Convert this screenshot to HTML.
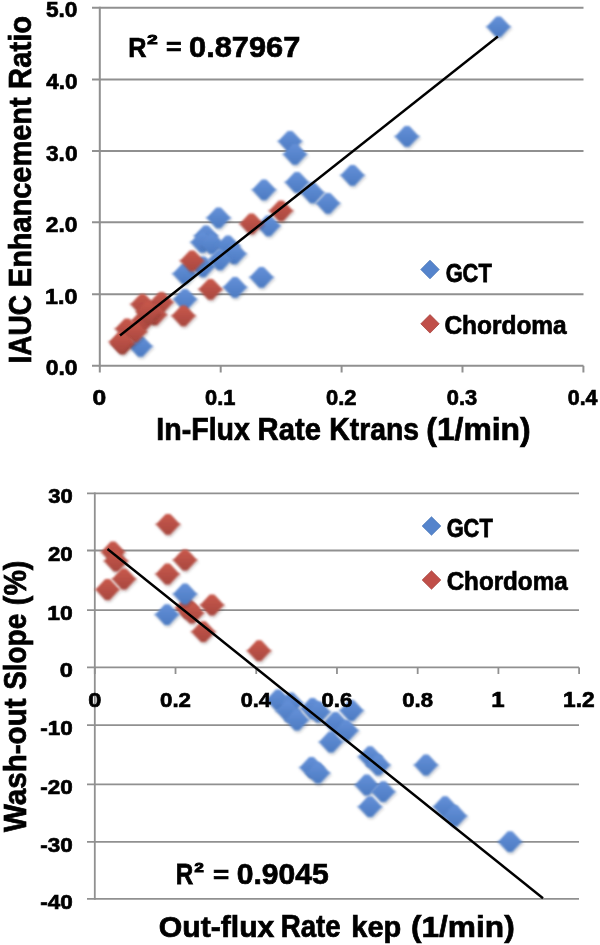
<!DOCTYPE html>
<html><head><meta charset="utf-8"><style>
html,body{margin:0;padding:0;background:#fff;}
body{width:600px;height:945px;overflow:hidden;}
svg{display:block;}
text{font-family:"Liberation Sans", sans-serif;font-weight:bold;fill:#000;stroke:#000;stroke-width:0.7px;vector-effect:non-scaling-stroke;}
</style></head><body>
<svg width="600" height="945" viewBox="0 0 600 945">
<defs>
<filter id="soft" x="-40%" y="-40%" width="180%" height="180%">
<feGaussianBlur in="SourceAlpha" stdDeviation="1.6" result="sb"/>
<feOffset in="sb" dx="0.8" dy="2" result="so"/>
<feFlood flood-color="#000" flood-opacity="0.22"/>
<feComposite in2="so" operator="in" result="sh"/>
<feGaussianBlur in="SourceGraphic" stdDeviation="0.9" result="bl"/>
<feMerge><feMergeNode in="sh"/><feMergeNode in="bl"/></feMerge>
</filter>
<filter id="glob" x="0" y="0" width="100%" height="100%" filterUnits="userSpaceOnUse"><feGaussianBlur stdDeviation="0.4"/></filter>
<filter id="lsoft" x="-20%" y="-20%" width="140%" height="140%"><feGaussianBlur stdDeviation="0.45"/></filter>
<linearGradient id="gb" x1="0" y1="0" x2="0" y2="1"><stop offset="0" stop-color="#6490d8"/><stop offset="1" stop-color="#4c7bc2"/></linearGradient>
<linearGradient id="gr" x1="0" y1="0" x2="0" y2="1"><stop offset="0" stop-color="#c9584b"/><stop offset="1" stop-color="#a84840"/></linearGradient>
</defs>
<rect width="600" height="945" fill="#fff"/>
<g filter="url(#glob)">
<line x1="92" y1="294.3" x2="583.5" y2="294.3" stroke="#909090" stroke-width="2"/>
<line x1="92" y1="222.3" x2="583.5" y2="222.3" stroke="#909090" stroke-width="2"/>
<line x1="92" y1="150.9" x2="583.5" y2="150.9" stroke="#909090" stroke-width="2"/>
<line x1="92" y1="79.4" x2="583.5" y2="79.4" stroke="#909090" stroke-width="2"/>
<line x1="92" y1="7.8" x2="583.5" y2="7.8" stroke="#909090" stroke-width="2"/>
<line x1="99.8" y1="6.8" x2="99.8" y2="366.8" stroke="#909090" stroke-width="2"/>
<line x1="92" y1="365.8" x2="583.5" y2="365.8" stroke="#909090" stroke-width="2"/>
<line x1="99.8" y1="365.8" x2="99.8" y2="372.5" stroke="#909090" stroke-width="2"/>
<line x1="220.7" y1="365.8" x2="220.7" y2="372.5" stroke="#909090" stroke-width="2"/>
<line x1="341.6" y1="365.8" x2="341.6" y2="372.5" stroke="#909090" stroke-width="2"/>
<line x1="462.50000000000006" y1="365.8" x2="462.50000000000006" y2="372.5" stroke="#909090" stroke-width="2"/>
<line x1="583.4" y1="365.8" x2="583.4" y2="372.5" stroke="#909090" stroke-width="2"/>
<path d="M496.3 16.4L500.7 16.4L509.5 25.8L511.5 26.5L511.5 27.1L509.5 27.8L500.7 37.2L496.3 37.2L487.5 27.8L485.5 27.1L485.5 26.5L487.5 25.8Z" fill="url(#gb)" filter="url(#soft)"/>
<path d="M404.8 126.0L409.2 126.0L418.0 135.4L420.0 136.1L420.0 136.7L418.0 137.4L409.2 146.8L404.8 146.8L396.0 137.4L394.0 136.7L394.0 136.1L396.0 135.4Z" fill="url(#gb)" filter="url(#soft)"/>
<path d="M287.8 130.9L292.2 130.9L301.0 140.3L303.0 141.0L303.0 141.6L301.0 142.3L292.2 151.7L287.8 151.7L279.0 142.3L277.0 141.6L277.0 141.0L279.0 140.3Z" fill="url(#gb)" filter="url(#soft)"/>
<path d="M292.8 143.9L297.2 143.9L306.0 153.3L308.0 154.0L308.0 154.6L306.0 155.3L297.2 164.7L292.8 164.7L284.0 155.3L282.0 154.6L282.0 154.0L284.0 153.3Z" fill="url(#gb)" filter="url(#soft)"/>
<path d="M350.3 164.9L354.7 164.9L363.5 174.3L365.5 175.0L365.5 175.6L363.5 176.3L354.7 185.7L350.3 185.7L341.5 176.3L339.5 175.6L339.5 175.0L341.5 174.3Z" fill="url(#gb)" filter="url(#soft)"/>
<path d="M261.8 179.4L266.2 179.4L275.0 188.8L277.0 189.5L277.0 190.1L275.0 190.8L266.2 200.2L261.8 200.2L253.0 190.8L251.0 190.1L251.0 189.5L253.0 188.8Z" fill="url(#gb)" filter="url(#soft)"/>
<path d="M294.8 171.9L299.2 171.9L308.0 181.3L310.0 182.0L310.0 182.6L308.0 183.3L299.2 192.7L294.8 192.7L286.0 183.3L284.0 182.6L284.0 182.0L286.0 181.3Z" fill="url(#gb)" filter="url(#soft)"/>
<path d="M310.3 182.4L314.7 182.4L323.5 191.8L325.5 192.5L325.5 193.1L323.5 193.8L314.7 203.2L310.3 203.2L301.5 193.8L299.5 193.1L299.5 192.5L301.5 191.8Z" fill="url(#gb)" filter="url(#soft)"/>
<path d="M325.8 192.9L330.2 192.9L339.0 202.3L341.0 203.0L341.0 203.6L339.0 204.3L330.2 213.7L325.8 213.7L317.0 204.3L315.0 203.6L315.0 203.0L317.0 202.3Z" fill="url(#gb)" filter="url(#soft)"/>
<path d="M266.3 215.4L270.7 215.4L279.5 224.8L281.5 225.5L281.5 226.1L279.5 226.8L270.7 236.2L266.3 236.2L257.5 226.8L255.5 226.1L255.5 225.5L257.5 224.8Z" fill="url(#gb)" filter="url(#soft)"/>
<path d="M216.3 207.4L220.7 207.4L229.5 216.8L231.5 217.5L231.5 218.1L229.5 218.8L220.7 228.2L216.3 228.2L207.5 218.8L205.5 218.1L205.5 217.5L207.5 216.8Z" fill="url(#gb)" filter="url(#soft)"/>
<path d="M203.8 225.4L208.2 225.4L217.0 234.8L219.0 235.5L219.0 236.1L217.0 236.8L208.2 246.2L203.8 246.2L195.0 236.8L193.0 236.1L193.0 235.5L195.0 234.8Z" fill="url(#gb)" filter="url(#soft)"/>
<path d="M200.3 231.9L204.7 231.9L213.5 241.3L215.5 242.0L215.5 242.6L213.5 243.3L204.7 252.7L200.3 252.7L191.5 243.3L189.5 242.6L189.5 242.0L191.5 241.3Z" fill="url(#gb)" filter="url(#soft)"/>
<path d="M209.8 233.4L214.2 233.4L223.0 242.8L225.0 243.5L225.0 244.1L223.0 244.8L214.2 254.2L209.8 254.2L201.0 244.8L199.0 244.1L199.0 243.5L201.0 242.8Z" fill="url(#gb)" filter="url(#soft)"/>
<path d="M225.8 235.4L230.2 235.4L239.0 244.8L241.0 245.5L241.0 246.1L239.0 246.8L230.2 256.2L225.8 256.2L217.0 246.8L215.0 246.1L215.0 245.5L217.0 244.8Z" fill="url(#gb)" filter="url(#soft)"/>
<path d="M232.3 243.4L236.7 243.4L245.5 252.8L247.5 253.5L247.5 254.1L245.5 254.8L236.7 264.2L232.3 264.2L223.5 254.8L221.5 254.1L221.5 253.5L223.5 252.8Z" fill="url(#gb)" filter="url(#soft)"/>
<path d="M200.8 256.4L205.2 256.4L214.0 265.8L216.0 266.5L216.0 267.1L214.0 267.8L205.2 277.2L200.8 277.2L192.0 267.8L190.0 267.1L190.0 266.5L192.0 265.8Z" fill="url(#gb)" filter="url(#soft)"/>
<path d="M217.8 249.4L222.2 249.4L231.0 258.8L233.0 259.5L233.0 260.1L231.0 260.8L222.2 270.2L217.8 270.2L209.0 260.8L207.0 260.1L207.0 259.5L209.0 258.8Z" fill="url(#gb)" filter="url(#soft)"/>
<path d="M182.3 263.4L186.7 263.4L195.5 272.8L197.5 273.5L197.5 274.1L195.5 274.8L186.7 284.2L182.3 284.2L173.5 274.8L171.5 274.1L171.5 273.5L173.5 272.8Z" fill="url(#gb)" filter="url(#soft)"/>
<path d="M259.3 266.9L263.7 266.9L272.5 276.3L274.5 277.0L274.5 277.6L272.5 278.3L263.7 287.7L259.3 287.7L250.5 278.3L248.5 277.6L248.5 277.0L250.5 276.3Z" fill="url(#gb)" filter="url(#soft)"/>
<path d="M232.8 276.9L237.2 276.9L246.0 286.3L248.0 287.0L248.0 287.6L246.0 288.3L237.2 297.7L232.8 297.7L224.0 288.3L222.0 287.6L222.0 287.0L224.0 286.3Z" fill="url(#gb)" filter="url(#soft)"/>
<path d="M182.8 288.9L187.2 288.9L196.0 298.3L198.0 299.0L198.0 299.6L196.0 300.3L187.2 309.7L182.8 309.7L174.0 300.3L172.0 299.6L172.0 299.0L174.0 298.3Z" fill="url(#gb)" filter="url(#soft)"/>
<path d="M138.3 335.9L142.7 335.9L151.5 345.3L153.5 346.0L153.5 346.6L151.5 347.3L142.7 356.7L138.3 356.7L129.5 347.3L127.5 346.6L127.5 346.0L129.5 345.3Z" fill="url(#gb)" filter="url(#soft)"/>
<path d="M278.8 200.4L283.2 200.4L292.0 209.8L294.0 210.5L294.0 211.1L292.0 211.8L283.2 221.2L278.8 221.2L270.0 211.8L268.0 211.1L268.0 210.5L270.0 209.8Z" fill="url(#gr)" filter="url(#soft)"/>
<path d="M249.3 213.4L253.7 213.4L262.5 222.8L264.5 223.5L264.5 224.1L262.5 224.8L253.7 234.2L249.3 234.2L240.5 224.8L238.5 224.1L238.5 223.5L240.5 222.8Z" fill="url(#gr)" filter="url(#soft)"/>
<path d="M189.8 250.4L194.2 250.4L203.0 259.8L205.0 260.5L205.0 261.1L203.0 261.8L194.2 271.2L189.8 271.2L181.0 261.8L179.0 261.1L179.0 260.5L181.0 259.8Z" fill="url(#gr)" filter="url(#soft)"/>
<path d="M208.3 278.9L212.7 278.9L221.5 288.3L223.5 289.0L223.5 289.6L221.5 290.3L212.7 299.7L208.3 299.7L199.5 290.3L197.5 289.6L197.5 289.0L199.5 288.3Z" fill="url(#gr)" filter="url(#soft)"/>
<path d="M181.3 305.4L185.7 305.4L194.5 314.8L196.5 315.5L196.5 316.1L194.5 316.8L185.7 326.2L181.3 326.2L172.5 316.8L170.5 316.1L170.5 315.5L172.5 314.8Z" fill="url(#gr)" filter="url(#soft)"/>
<path d="M159.3 291.9L163.7 291.9L172.5 301.3L174.5 302.0L174.5 302.6L172.5 303.3L163.7 312.7L159.3 312.7L150.5 303.3L148.5 302.6L148.5 302.0L150.5 301.3Z" fill="url(#gr)" filter="url(#soft)"/>
<path d="M140.3 293.9L144.7 293.9L153.5 303.3L155.5 304.0L155.5 304.6L153.5 305.3L144.7 314.7L140.3 314.7L131.5 305.3L129.5 304.6L129.5 304.0L131.5 303.3Z" fill="url(#gr)" filter="url(#soft)"/>
<path d="M152.8 304.4L157.2 304.4L166.0 313.8L168.0 314.5L168.0 315.1L166.0 315.8L157.2 325.2L152.8 325.2L144.0 315.8L142.0 315.1L142.0 314.5L144.0 313.8Z" fill="url(#gr)" filter="url(#soft)"/>
<path d="M140.8 310.4L145.2 310.4L154.0 319.8L156.0 320.5L156.0 321.1L154.0 321.8L145.2 331.2L140.8 331.2L132.0 321.8L130.0 321.1L130.0 320.5L132.0 319.8Z" fill="url(#gr)" filter="url(#soft)"/>
<path d="M124.8 318.4L129.2 318.4L138.0 327.8L140.0 328.5L140.0 329.1L138.0 329.8L129.2 339.2L124.8 339.2L116.0 329.8L114.0 329.1L114.0 328.5L116.0 327.8Z" fill="url(#gr)" filter="url(#soft)"/>
<path d="M132.8 321.4L137.2 321.4L146.0 330.8L148.0 331.5L148.0 332.1L146.0 332.8L137.2 342.2L132.8 342.2L124.0 332.8L122.0 332.1L122.0 331.5L124.0 330.8Z" fill="url(#gr)" filter="url(#soft)"/>
<path d="M120.3 333.4L124.7 333.4L133.5 342.8L135.5 343.5L135.5 344.1L133.5 344.8L124.7 354.2L120.3 354.2L111.5 344.8L109.5 344.1L109.5 343.5L111.5 342.8Z" fill="url(#gr)" filter="url(#soft)"/>
<path d="M118.8 331.4L123.2 331.4L132.0 340.8L134.0 341.5L134.0 342.1L132.0 342.8L123.2 352.2L118.8 352.2L110.0 342.8L108.0 342.1L108.0 341.5L110.0 340.8Z" fill="url(#gr)" filter="url(#soft)"/>
<path d="M145.8 301.4L150.2 301.4L159.0 310.8L161.0 311.5L161.0 312.1L159.0 312.8L150.2 322.2L145.8 322.2L137.0 312.8L135.0 312.1L135.0 311.5L137.0 310.8Z" fill="url(#gr)" filter="url(#soft)"/>
<line x1="120" y1="335.5" x2="497.9" y2="36.5" stroke="#000" stroke-width="2.4"/>
<text transform="translate(45.68 375.43) scale(0.9542 0.8979)" font-size="24">0.0</text>
<text transform="translate(45.08 303.93) scale(0.9728 0.8979)" font-size="24">1.0</text>
<text transform="translate(45.80 231.93) scale(0.9506 0.8979)" font-size="24">2.0</text>
<text transform="translate(46.03 160.53) scale(0.9434 0.8979)" font-size="24">3.0</text>
<text transform="translate(46.26 89.03) scale(0.9363 0.8979)" font-size="24">4.0</text>
<text transform="translate(45.92 17.43) scale(0.9470 0.8979)" font-size="24">5.0</text>
<text transform="translate(92.56 404.58) scale(1.0263 0.9331)" font-size="24">0</text>
<text transform="translate(205.03 404.58) scale(0.9091 0.9331)" font-size="24">0.1</text>
<text transform="translate(325.92 404.58) scale(0.9160 0.9331)" font-size="24">0.2</text>
<text transform="translate(446.82 404.58) scale(0.9125 0.9331)" font-size="24">0.3</text>
<text transform="translate(567.74 404.58) scale(0.8922 0.9331)" font-size="24">0.4</text>
<text transform="translate(156.34 439.70) scale(0.9845 1.0695)" font-size="29">In-Flux</text>
<text transform="translate(257.60 439.70) scale(1.0078 1.0695)" font-size="29">Rate</text>
<text transform="translate(329.36 439.70) scale(0.9770 1.0695)" font-size="29">Ktrans</text>
<text transform="translate(426.31 439.70) scale(1.0985 1.0695)" font-size="29">(1/min)</text>
<g transform="translate(31.20 361.70) rotate(-90)"><text transform="translate(-1.83 0) scale(0.9685 1.0595)" font-size="29">IAUC</text></g>
<g transform="translate(31.20 285.30) rotate(-90)"><text transform="translate(-1.88 0) scale(0.9983 1.0595)" font-size="29">Enhancement</text></g>
<g transform="translate(31.20 87.00) rotate(-90)"><text transform="translate(-1.90 0) scale(1.0078 1.0595)" font-size="29">Ratio</text></g>
<text transform="translate(128.36 56.50) scale(0.9332 1.0467)" font-size="27">R</text>
<text transform="translate(147.15 43.70) scale(1.3244 0.9592)" font-size="14" style="stroke-width:1.2px">2</text>
<text transform="translate(165.93 54.93) scale(0.9901 0.8772)" font-size="27">=</text>
<text transform="translate(189.07 56.50) scale(1.1405 1.1111)" font-size="27">0.87967</text>
<path d="M430.0 260.2L439.2 269.5L430.0 278.8L420.8 269.5Z" fill="#5484cc" stroke="#4a76b8" stroke-width="0.8" filter="url(#lsoft)"/>
<text transform="translate(445.63 281.50) scale(0.9102 1.0870)" font-size="24">GCT</text>
<path d="M430.0 314.6L439.2 323.8L430.0 333.1L420.8 323.8Z" fill="#c0504a" stroke="#a8443f" stroke-width="0.8" filter="url(#lsoft)"/>
<text transform="translate(444.42 334.14) scale(1.0188 1.0658)" font-size="24">Chordoma</text>
<line x1="87" y1="493.3" x2="579" y2="493.3" stroke="#909090" stroke-width="1.8"/>
<line x1="87" y1="550.5" x2="579" y2="550.5" stroke="#909090" stroke-width="1.8"/>
<line x1="87" y1="610.2" x2="579" y2="610.2" stroke="#909090" stroke-width="1.8"/>
<line x1="87" y1="725.1" x2="579" y2="725.1" stroke="#909090" stroke-width="1.8"/>
<line x1="87" y1="784.4" x2="579" y2="784.4" stroke="#909090" stroke-width="1.8"/>
<line x1="87" y1="841.8" x2="579" y2="841.8" stroke="#909090" stroke-width="1.8"/>
<line x1="87" y1="898.9" x2="579" y2="898.9" stroke="#909090" stroke-width="1.8"/>
<line x1="94.8" y1="492.4" x2="94.8" y2="899.8" stroke="#909090" stroke-width="1.8"/>
<line x1="87" y1="667.4" x2="579" y2="667.4" stroke="#909090" stroke-width="1.8"/>
<line x1="94.8" y1="667.4" x2="94.8" y2="674" stroke="#909090" stroke-width="1.8"/>
<line x1="175.52" y1="667.4" x2="175.52" y2="674" stroke="#909090" stroke-width="1.8"/>
<line x1="256.24" y1="667.4" x2="256.24" y2="674" stroke="#909090" stroke-width="1.8"/>
<line x1="336.96000000000004" y1="667.4" x2="336.96000000000004" y2="674" stroke="#909090" stroke-width="1.8"/>
<line x1="417.68000000000006" y1="667.4" x2="417.68000000000006" y2="674" stroke="#909090" stroke-width="1.8"/>
<line x1="498.40000000000003" y1="667.4" x2="498.40000000000003" y2="674" stroke="#909090" stroke-width="1.8"/>
<line x1="579.1200000000001" y1="667.4" x2="579.1200000000001" y2="674" stroke="#909090" stroke-width="1.8"/>
<path d="M165.8 513.9L170.2 513.9L179.0 523.3L181.0 524.0L181.0 524.6L179.0 525.3L170.2 534.7L165.8 534.7L157.0 525.3L155.0 524.6L155.0 524.0L157.0 523.3Z" fill="url(#gr)" filter="url(#soft)"/>
<path d="M110.8 541.6L115.2 541.6L124.0 551.0L126.0 551.7L126.0 552.3L124.0 553.0L115.2 562.4L110.8 562.4L102.0 553.0L100.0 552.3L100.0 551.7L102.0 551.0Z" fill="url(#gr)" filter="url(#soft)"/>
<path d="M113.8 550.6L118.2 550.6L127.0 560.0L129.0 560.7L129.0 561.3L127.0 562.0L118.2 571.4L113.8 571.4L105.0 562.0L103.0 561.3L103.0 560.7L105.0 560.0Z" fill="url(#gr)" filter="url(#soft)"/>
<path d="M182.8 549.6L187.2 549.6L196.0 559.0L198.0 559.7L198.0 560.3L196.0 561.0L187.2 570.4L182.8 570.4L174.0 561.0L172.0 560.3L172.0 559.7L174.0 559.0Z" fill="url(#gr)" filter="url(#soft)"/>
<path d="M165.3 563.6L169.7 563.6L178.5 573.0L180.5 573.7L180.5 574.3L178.5 575.0L169.7 584.4L165.3 584.4L156.5 575.0L154.5 574.3L154.5 573.7L156.5 573.0Z" fill="url(#gr)" filter="url(#soft)"/>
<path d="M121.8 568.6L126.2 568.6L135.0 578.0L137.0 578.7L137.0 579.3L135.0 580.0L126.2 589.4L121.8 589.4L113.0 580.0L111.0 579.3L111.0 578.7L113.0 578.0Z" fill="url(#gr)" filter="url(#soft)"/>
<path d="M105.3 579.1L109.7 579.1L118.5 588.5L120.5 589.2L120.5 589.8L118.5 590.5L109.7 599.9L105.3 599.9L96.5 590.5L94.5 589.8L94.5 589.2L96.5 588.5Z" fill="url(#gr)" filter="url(#soft)"/>
<path d="M209.8 594.6L214.2 594.6L223.0 604.0L225.0 604.7L225.0 605.3L223.0 606.0L214.2 615.4L209.8 615.4L201.0 606.0L199.0 605.3L199.0 604.7L201.0 604.0Z" fill="url(#gr)" filter="url(#soft)"/>
<path d="M184.8 597.6L189.2 597.6L198.0 607.0L200.0 607.7L200.0 608.3L198.0 609.0L189.2 618.4L184.8 618.4L176.0 609.0L174.0 608.3L174.0 607.7L176.0 607.0Z" fill="url(#gr)" filter="url(#soft)"/>
<path d="M189.8 602.6L194.2 602.6L203.0 612.0L205.0 612.7L205.0 613.3L203.0 614.0L194.2 623.4L189.8 623.4L181.0 614.0L179.0 613.3L179.0 612.7L181.0 612.0Z" fill="url(#gr)" filter="url(#soft)"/>
<path d="M201.1 621.3L205.5 621.3L214.3 630.7L216.3 631.4L216.3 632.0L214.3 632.7L205.5 642.1L201.1 642.1L192.3 632.7L190.3 632.0L190.3 631.4L192.3 630.7Z" fill="url(#gr)" filter="url(#soft)"/>
<path d="M256.8 640.3L261.2 640.3L270.0 649.7L272.0 650.4L272.0 651.0L270.0 651.7L261.2 661.1L256.8 661.1L248.0 651.7L246.0 651.0L246.0 650.4L248.0 649.7Z" fill="url(#gr)" filter="url(#soft)"/>
<path d="M182.8 583.6L187.2 583.6L196.0 593.0L198.0 593.7L198.0 594.3L196.0 595.0L187.2 604.4L182.8 604.4L174.0 595.0L172.0 594.3L172.0 593.7L174.0 593.0Z" fill="url(#gb)" filter="url(#soft)"/>
<path d="M164.8 604.2L169.2 604.2L178.0 613.6L180.0 614.3L180.0 614.9L178.0 615.6L169.2 625.0L164.8 625.0L156.0 615.6L154.0 614.9L154.0 614.3L156.0 613.6Z" fill="url(#gb)" filter="url(#soft)"/>
<path d="M275.8 689.6L280.2 689.6L289.0 699.0L291.0 699.7L291.0 700.3L289.0 701.0L280.2 710.4L275.8 710.4L267.0 701.0L265.0 700.3L265.0 699.7L267.0 699.0Z" fill="url(#gb)" filter="url(#soft)"/>
<path d="M288.8 692.6L293.2 692.6L302.0 702.0L304.0 702.7L304.0 703.3L302.0 704.0L293.2 713.4L288.8 713.4L280.0 704.0L278.0 703.3L278.0 702.7L280.0 702.0Z" fill="url(#gb)" filter="url(#soft)"/>
<path d="M285.8 700.6L290.2 700.6L299.0 710.0L301.0 710.7L301.0 711.3L299.0 712.0L290.2 721.4L285.8 721.4L277.0 712.0L275.0 711.3L275.0 710.7L277.0 710.0Z" fill="url(#gb)" filter="url(#soft)"/>
<path d="M294.8 709.6L299.2 709.6L308.0 719.0L310.0 719.7L310.0 720.3L308.0 721.0L299.2 730.4L294.8 730.4L286.0 721.0L284.0 720.3L284.0 719.7L286.0 719.0Z" fill="url(#gb)" filter="url(#soft)"/>
<path d="M310.3 698.1L314.7 698.1L323.5 707.5L325.5 708.2L325.5 708.8L323.5 709.5L314.7 718.9L310.3 718.9L301.5 709.5L299.5 708.8L299.5 708.2L301.5 707.5Z" fill="url(#gb)" filter="url(#soft)"/>
<path d="M316.3 701.6L320.7 701.6L329.5 711.0L331.5 711.7L331.5 712.3L329.5 713.0L320.7 722.4L316.3 722.4L307.5 713.0L305.5 712.3L305.5 711.7L307.5 711.0Z" fill="url(#gb)" filter="url(#soft)"/>
<path d="M349.3 700.1L353.7 700.1L362.5 709.5L364.5 710.2L364.5 710.8L362.5 711.5L353.7 720.9L349.3 720.9L340.5 711.5L338.5 710.8L338.5 710.2L340.5 709.5Z" fill="url(#gb)" filter="url(#soft)"/>
<path d="M333.3 712.1L337.7 712.1L346.5 721.5L348.5 722.2L348.5 722.8L346.5 723.5L337.7 732.9L333.3 732.9L324.5 723.5L322.5 722.8L322.5 722.2L324.5 721.5Z" fill="url(#gb)" filter="url(#soft)"/>
<path d="M344.3 720.1L348.7 720.1L357.5 729.5L359.5 730.2L359.5 730.8L357.5 731.5L348.7 740.9L344.3 740.9L335.5 731.5L333.5 730.8L333.5 730.2L335.5 729.5Z" fill="url(#gb)" filter="url(#soft)"/>
<path d="M328.8 731.6L333.2 731.6L342.0 741.0L344.0 741.7L344.0 742.3L342.0 743.0L333.2 752.4L328.8 752.4L320.0 743.0L318.0 742.3L318.0 741.7L320.0 741.0Z" fill="url(#gb)" filter="url(#soft)"/>
<path d="M367.8 746.3L372.2 746.3L381.0 755.7L383.0 756.4L383.0 757.0L381.0 757.7L372.2 767.1L367.8 767.1L359.0 757.7L357.0 757.0L357.0 756.4L359.0 755.7Z" fill="url(#gb)" filter="url(#soft)"/>
<path d="M376.1 754.6L380.5 754.6L389.3 764.0L391.3 764.7L391.3 765.3L389.3 766.0L380.5 775.4L376.1 775.4L367.3 766.0L365.3 765.3L365.3 764.7L367.3 764.0Z" fill="url(#gb)" filter="url(#soft)"/>
<path d="M423.8 754.6L428.2 754.6L437.0 764.0L439.0 764.7L439.0 765.3L437.0 766.0L428.2 775.4L423.8 775.4L415.0 766.0L413.0 765.3L413.0 764.7L415.0 764.0Z" fill="url(#gb)" filter="url(#soft)"/>
<path d="M309.3 757.1L313.7 757.1L322.5 766.5L324.5 767.2L324.5 767.8L322.5 768.5L313.7 777.9L309.3 777.9L300.5 768.5L298.5 767.8L298.5 767.2L300.5 766.5Z" fill="url(#gb)" filter="url(#soft)"/>
<path d="M315.8 762.6L320.2 762.6L329.0 772.0L331.0 772.7L331.0 773.3L329.0 774.0L320.2 783.4L315.8 783.4L307.0 774.0L305.0 773.3L305.0 772.7L307.0 772.0Z" fill="url(#gb)" filter="url(#soft)"/>
<path d="M364.5 774.6L368.9 774.6L377.7 784.0L379.7 784.7L379.7 785.3L377.7 786.0L368.9 795.4L364.5 795.4L355.7 786.0L353.7 785.3L353.7 784.7L355.7 784.0Z" fill="url(#gb)" filter="url(#soft)"/>
<path d="M381.1 781.3L385.5 781.3L394.3 790.7L396.3 791.4L396.3 792.0L394.3 792.7L385.5 802.1L381.1 802.1L372.3 792.7L370.3 792.0L370.3 791.4L372.3 790.7Z" fill="url(#gb)" filter="url(#soft)"/>
<path d="M367.8 796.3L372.2 796.3L381.0 805.7L383.0 806.4L383.0 807.0L381.0 807.7L372.2 817.1L367.8 817.1L359.0 807.7L357.0 807.0L357.0 806.4L359.0 805.7Z" fill="url(#gb)" filter="url(#soft)"/>
<path d="M442.8 796.3L447.2 796.3L456.0 805.7L458.0 806.4L458.0 807.0L456.0 807.7L447.2 817.1L442.8 817.1L434.0 807.7L432.0 807.0L432.0 806.4L434.0 805.7Z" fill="url(#gb)" filter="url(#soft)"/>
<path d="M452.8 805.6L457.2 805.6L466.0 815.0L468.0 815.7L468.0 816.3L466.0 817.0L457.2 826.4L452.8 826.4L444.0 817.0L442.0 816.3L442.0 815.7L444.0 815.0Z" fill="url(#gb)" filter="url(#soft)"/>
<path d="M507.8 831.3L512.2 831.3L521.0 840.7L523.0 841.4L523.0 842.0L521.0 842.7L512.2 852.1L507.8 852.1L499.0 842.7L497.0 842.0L497.0 841.4L499.0 840.7Z" fill="url(#gb)" filter="url(#soft)"/>
<line x1="107.5" y1="549" x2="543" y2="898.3" stroke="#000" stroke-width="2.4"/>
<text transform="translate(48.25 503.04) scale(0.9171 0.8803)" font-size="24">30</text>
<text transform="translate(48.02 561.29) scale(0.9259 0.8803)" font-size="24">20</text>
<text transform="translate(47.31 619.89) scale(0.9536 0.8803)" font-size="24">10</text>
<text transform="translate(59.66 677.29) scale(0.9825 0.8803)" font-size="24">0</text>
<text transform="translate(40.20 735.19) scale(0.9371 0.8803)" font-size="24">-10</text>
<text transform="translate(40.20 793.59) scale(0.9371 0.8803)" font-size="24">-20</text>
<text transform="translate(40.20 851.89) scale(0.9371 0.8803)" font-size="24">-30</text>
<text transform="translate(40.20 909.39) scale(0.9371 0.8803)" font-size="24">-40</text>
<text transform="translate(88.26 706.79) scale(0.9825 0.8803)" font-size="24">0</text>
<text transform="translate(160.03 706.79) scale(0.9288 0.8803)" font-size="24">0.2</text>
<text transform="translate(240.77 706.79) scale(0.9046 0.8803)" font-size="24">0.4</text>
<text transform="translate(321.47 706.79) scale(0.9252 0.8803)" font-size="24">0.6</text>
<text transform="translate(402.20 706.79) scale(0.9217 0.8803)" font-size="24">0.8</text>
<text transform="translate(491.23 707.00) scale(1.0036 0.9058)" font-size="24">1</text>
<text transform="translate(563.04 707.00) scale(0.9468 0.8929)" font-size="24">1.2</text>
<text transform="translate(158.79 936.70) scale(1.0404 1.0495)" font-size="29">Out-flux</text>
<text transform="translate(280.70 936.70) scale(0.9545 1.0495)" font-size="29">Rate</text>
<text transform="translate(351.27 936.70) scale(1.0002 1.0495)" font-size="29">kep</text>
<text transform="translate(410.92 936.70) scale(1.0920 1.0495)" font-size="29">(1/min)</text>
<g transform="translate(26.30 832.00) rotate(-90)"><text transform="translate(-0.00 0) scale(1.0203 1.0845)" font-size="29">Wash-out</text></g>
<g transform="translate(26.30 689.00) rotate(-90)"><text transform="translate(-0.84 0) scale(0.9632 1.0845)" font-size="29">Slope</text></g>
<g transform="translate(26.30 603.70) rotate(-90)"><text transform="translate(-1.43 0) scale(0.9859 1.0845)" font-size="29">(%)</text></g>
<text transform="translate(175.72 883.70) scale(0.8982 1.0735)" font-size="27">R</text>
<text transform="translate(194.42 872.00) scale(1.1905 0.9592)" font-size="14" style="stroke-width:1.2px">2</text>
<text transform="translate(212.89 883.29) scale(1.0268 0.9162)" font-size="27">=</text>
<text transform="translate(236.69 883.60) scale(1.1161 1.0955)" font-size="27">0.9045</text>
<path d="M431.5 516.8L440.8 526.0L431.5 535.2L422.2 526.0Z" fill="#5484cc" stroke="#4a76b8" stroke-width="0.8" filter="url(#lsoft)"/>
<text transform="translate(446.63 537.20) scale(0.9102 1.0688)" font-size="24">GCT</text>
<path d="M431.5 570.8L440.8 580.0L431.5 589.2L422.2 580.0Z" fill="#c0504a" stroke="#a8443f" stroke-width="0.8" filter="url(#lsoft)"/>
<text transform="translate(446.63 590.44) scale(1.0087 1.0771)" font-size="24">Chordoma</text>
</g>
</svg>
</body></html>
